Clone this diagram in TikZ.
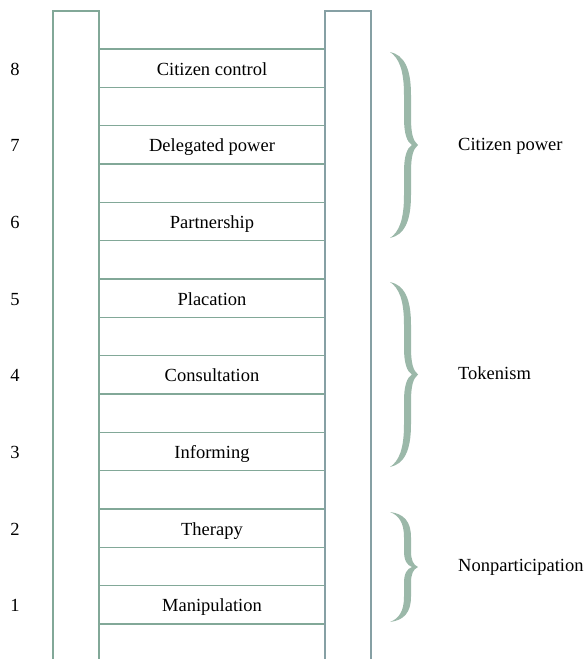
\documentclass[tikz,border=0pt]{standalone}
\usepackage{fontspec}
\setmainfont{Liberation Serif}
\definecolor{rungcol}{HTML}{82A898}
\definecolor{railcol}{HTML}{86A0A4}
\definecolor{bracecol}{HTML}{9BB8A9}
\newcommand{\ladderbrace}[2]{%
  \begin{scope}[shift={(390,#1)}, yscale=#2/186]
    \fill[bracecol] (0,0) .. controls (14,3) and (21,16) .. (21,43) -- (21,66)
      .. controls (21,81) and (23,89) .. (28,93)
      .. controls (23,97) and (21,105) .. (21,120) -- (21,143)
      .. controls (21,170) and (14,183) .. (0,186)
      .. controls (9,180) and (14,168) .. (14,143) -- (14,120)
      .. controls (14,104) and (17,96) .. (22,93)
      .. controls (17,90) and (14,82) .. (14,66) -- (14,43)
      .. controls (14,18) and (9,6) .. (0,0) -- cycle;
  \end{scope}}
\begin{document}
\begin{tikzpicture}[x=1pt,y=-1pt,
  txt/.style={font=\fontsize{18.5}{22}\selectfont, inner sep=0pt},
  rungbox/.style={draw=rungcol, line width=1.1pt, minimum width=226pt, minimum height=38.33pt,
    inner sep=0pt, text height=14pt, text depth=0pt, font=\fontsize{18.5}{22}\selectfont},
  rail/.style={draw=#1, line width=1.1pt},
  num/.style={txt, anchor=base}]
\useasboundingbox (0,0) rectangle (585,659);
% rungs (labelled boxes)
\node[rungbox] (r8) at (212,68.17)  {Citizen control};
\node[rungbox] (r7) at (212,144.83) {Delegated power};
\node[rungbox] (r6) at (212,221.5)  {Partnership};
\node[rungbox] (r5) at (212,298.17) {Placation};
\node[rungbox] (r4) at (212,374.83) {Consultation};
\node[rungbox] (r3) at (212,451.5)  {Informing};
\node[rungbox] (r2) at (212,528.17) {Therapy};
\node[rungbox] (r1) at (212,604.83) {Manipulation};
% rails
\draw[rail=rungcol] (53,659) -- (53,11) -- (99,11) -- (99,659);
\draw[rail=railcol] (325,659) -- (325,11) -- (371,11) -- (371,659);
% level numbers
\foreach \k/\y in {8/68.17,7/144.83,6/221.5,5/298.17,4/374.83,3/451.5,2/528.17,1/604.83}
  \node[num] (n\k) at (15,\y+7) {\k};
% braces
\ladderbrace{52}{186}
\ladderbrace{282}{185}
\ladderbrace{512}{110}
\node[txt, anchor=base west] (g3) at (458,150) {Citizen power};
\node[txt, anchor=base west] (g2) at (458,379) {Tokenism};
\node[txt, anchor=base west] (g1) at (458,571) {Nonparticipation};
\end{tikzpicture}
\end{document}
